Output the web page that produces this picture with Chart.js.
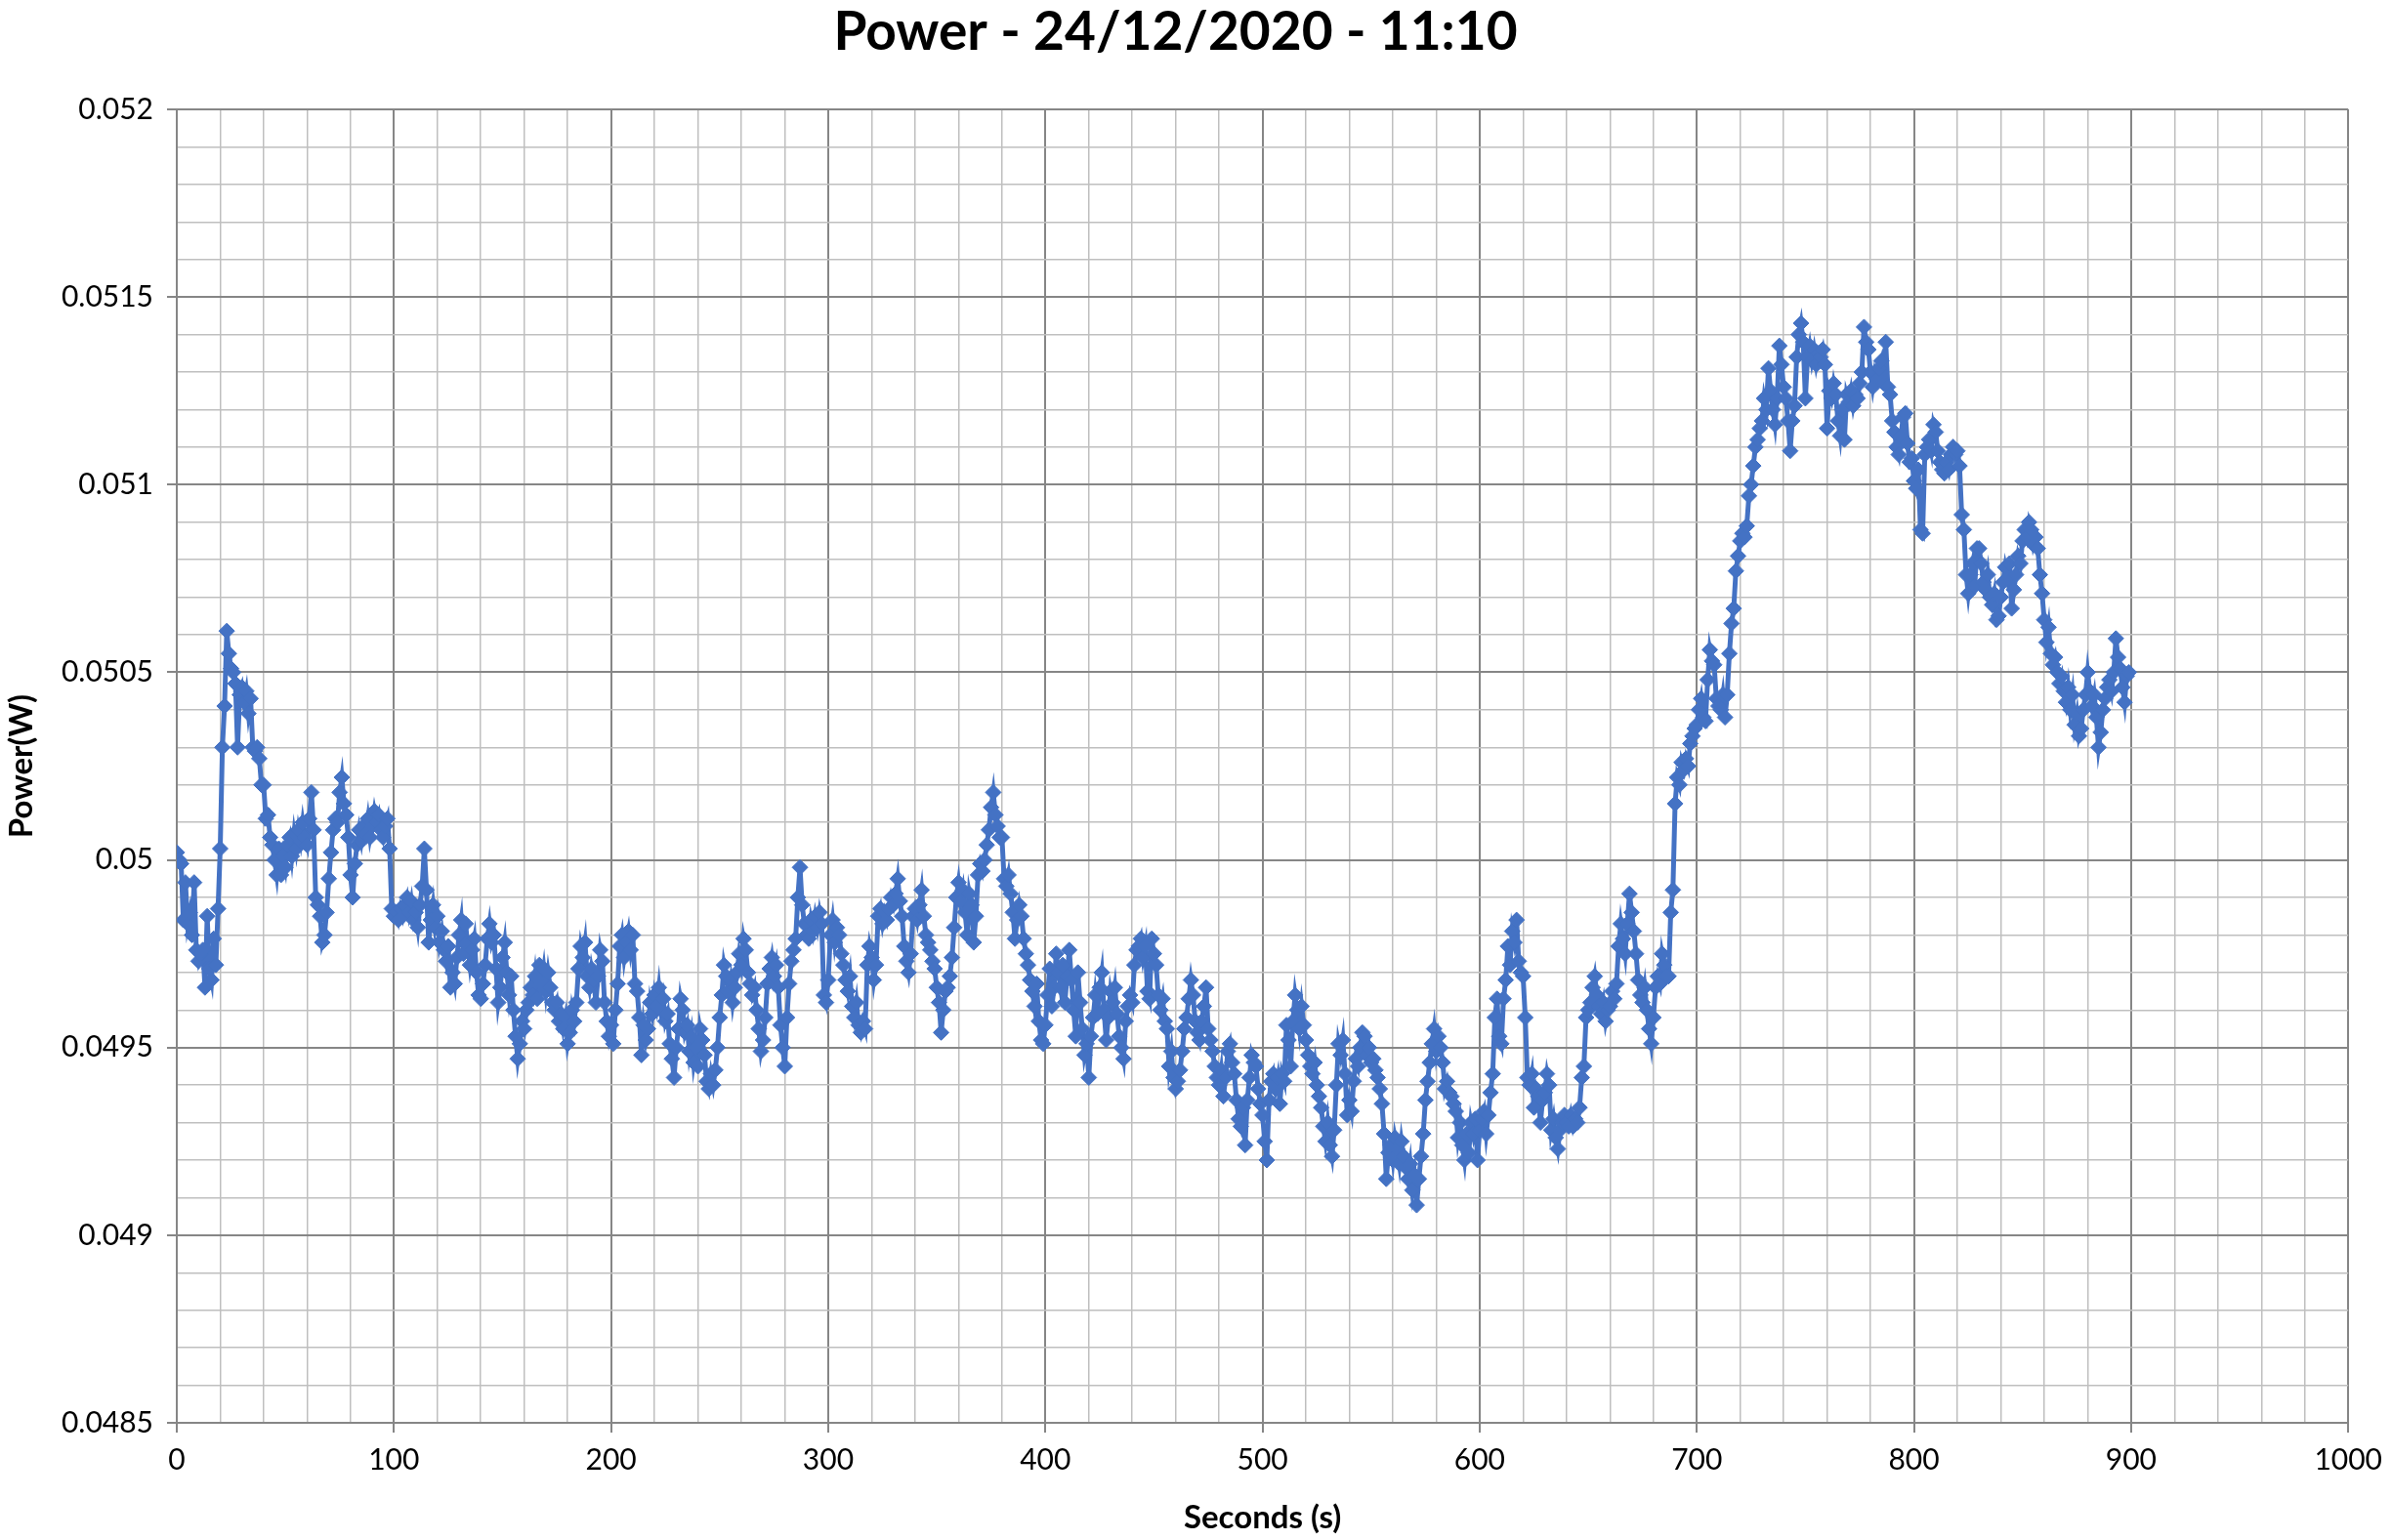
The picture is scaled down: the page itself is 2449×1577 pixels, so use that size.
<!DOCTYPE html>
<html>
<head>
<meta charset="utf-8">
<script src="https://cdn.jsdelivr.net/npm/chart.js@4.4.1/dist/chart.umd.min.js"></script>
<style>
  html, body { margin: 0; padding: 0; background: #ffffff; }
  #wrap { width: 2449px; height: 1577px; }
</style>
</head>
<body>
<div id="wrap"><canvas id="c" width="2449" height="1577"></canvas></div>
<script>
const chartTitle = 'Power - 24/12/2020 - 11:10';
const xAxisTitle = 'Seconds (s)';
const yAxisTitle = 'Power(W)';

// sample time of the first reading and spacing between readings (seconds)
const startSecond = 0;
const secondsPerSample = 1;

// power readings (W), one per sample
const powerW = [
  0.05002,0.05000,0.04999,0.04984,0.04994,0.04983,0.04986,0.04980,0.04994,0.04976,
  0.04973,0.04975,0.04976,0.04966,0.04985,0.04971,0.04968,0.04979,0.04972,0.04987,
  0.05003,0.05030,0.05041,0.05061,0.05055,0.05051,0.05050,0.05047,0.05030,0.05044,
  0.05046,0.05042,0.05045,0.05039,0.05043,0.05030,0.05029,0.05030,0.05027,0.05020,
  0.05020,0.05011,0.05012,0.05006,0.05004,0.05000,0.04996,0.05003,0.04996,0.05001,
  0.04998,0.05004,0.05006,0.05001,0.05007,0.05003,0.05008,0.05005,0.05010,0.05006,
  0.05004,0.05011,0.05018,0.05008,0.04990,0.04988,0.04985,0.04978,0.04980,0.04986,
  0.04995,0.05002,0.05008,0.05011,0.05010,0.05018,0.05022,0.05015,0.05012,0.05006,
  0.04996,0.04990,0.04999,0.05004,0.05008,0.05005,0.05009,0.05007,0.05011,0.05006,
  0.05009,0.05013,0.05010,0.05012,0.05008,0.05006,0.05009,0.05011,0.05003,0.04987,
  0.04985,0.04986,0.04984,0.04987,0.04985,0.04988,0.04990,0.04986,0.04989,0.04984,
  0.04986,0.04982,0.04988,0.04993,0.05003,0.04992,0.04978,0.04984,0.04988,0.04982,
  0.04985,0.04978,0.04981,0.04976,0.04973,0.04977,0.04966,0.04970,0.04967,0.04974,
  0.04980,0.04984,0.04975,0.04983,0.04977,0.04972,0.04976,0.04979,0.04970,0.04964,
  0.04963,0.04967,0.04972,0.04979,0.04983,0.04978,0.04980,0.04971,0.04962,0.04966,
  0.04974,0.04978,0.04970,0.04964,0.04969,0.04960,0.04953,0.04947,0.04951,0.04957,
  0.04955,0.04960,0.04962,0.04966,0.04964,0.04969,0.04963,0.04972,0.04967,0.04971,
  0.04965,0.04970,0.04966,0.04962,0.04960,0.04962,0.04957,0.04959,0.04955,0.04958,
  0.04951,0.04954,0.04960,0.04957,0.04962,0.04971,0.04977,0.04974,0.04978,0.04969,
  0.04966,0.04971,0.04968,0.04962,0.04969,0.04976,0.04973,0.04962,0.04957,0.04953,
  0.04956,0.04951,0.04960,0.04967,0.04977,0.04980,0.04974,0.04978,0.04981,0.04976,
  0.04980,0.04967,0.04965,0.04958,0.04948,0.04956,0.04952,0.04955,0.04962,0.04959,
  0.04964,0.04961,0.04966,0.04960,0.04963,0.04957,0.04959,0.04951,0.04947,0.04942,
  0.04950,0.04955,0.04963,0.04960,0.04954,0.04956,0.04949,0.04953,0.04946,0.04950,
  0.04945,0.04955,0.04952,0.04948,0.04941,0.04939,0.04943,0.04940,0.04944,0.04950,
  0.04958,0.04964,0.04972,0.04969,0.04965,0.04968,0.04962,0.04966,0.04970,0.04975,
  0.04972,0.04979,0.04976,0.04970,0.04967,0.04964,0.04966,0.04960,0.04955,0.04949,
  0.04952,0.04958,0.04967,0.04971,0.04974,0.04969,0.04972,0.04966,0.04956,0.04950,
  0.04945,0.04958,0.04967,0.04973,0.04976,0.04979,0.04990,0.04998,0.04988,0.04983,
  0.04980,0.04979,0.04984,0.04981,0.04985,0.04982,0.04986,0.04983,0.04964,0.04962,
  0.04968,0.04980,0.04984,0.04978,0.04982,0.04980,0.04975,0.04972,0.04968,0.04965,
  0.04969,0.04961,0.04958,0.04962,0.04956,0.04954,0.04957,0.04955,0.04972,0.04977,
  0.04974,0.04968,0.04972,0.04985,0.04987,0.04983,0.04986,0.04984,0.04987,0.04990,
  0.04988,0.04991,0.04995,0.04989,0.04985,0.04977,0.04973,0.04970,0.04975,0.04985,
  0.04987,0.04984,0.04988,0.04992,0.04985,0.04980,0.04978,0.04976,0.04973,0.04971,
  0.04966,0.04962,0.04954,0.04960,0.04965,0.04966,0.04969,0.04974,0.04982,0.04990,
  0.04994,0.04989,0.04992,0.04986,0.04980,0.04991,0.04988,0.04978,0.04985,0.04996,
  0.04999,0.04997,0.05000,0.05004,0.05008,0.05014,0.05018,0.05012,0.05009,0.05006,
  0.05006,0.04995,0.04993,0.04996,0.04991,0.04986,0.04979,0.04984,0.04988,0.04985,
  0.04979,0.04975,0.04972,0.04968,0.04965,0.04961,0.04967,0.04957,0.04952,0.04951,
  0.04956,0.04964,0.04971,0.04961,0.04966,0.04975,0.04970,0.04966,0.04972,0.04962,
  0.04969,0.04976,0.04968,0.04960,0.04953,0.04970,0.04962,0.04955,0.04948,0.04951,
  0.04942,0.04953,0.04958,0.04964,0.04959,0.04966,0.04970,0.04960,0.04952,0.04958,
  0.04965,0.04962,0.04966,0.04959,0.04953,0.04950,0.04947,0.04957,0.04961,0.04964,
  0.04962,0.04972,0.04976,0.04977,0.04979,0.04974,0.04977,0.04965,0.04963,0.04979,
  0.04975,0.04972,0.04964,0.04960,0.04963,0.04957,0.04955,0.04945,0.04949,0.04942,
  0.04939,0.04941,0.04944,0.04949,0.04955,0.04958,0.04963,0.04968,0.04964,0.04957,
  0.04954,0.04952,0.04957,0.04961,0.04966,0.04955,0.04952,0.04949,0.04945,0.04942,
  0.04940,0.04944,0.04937,0.04942,0.04949,0.04951,0.04946,0.04943,0.04936,0.04931,
  0.04929,0.04934,0.04924,0.04936,0.04942,0.04948,0.04946,0.04945,0.04939,0.04935,
  0.04932,0.04925,0.04920,0.04936,0.04941,0.04943,0.04939,0.04942,0.04935,0.04943,
  0.04941,0.04956,0.04952,0.04945,0.04957,0.04964,0.04960,0.04955,0.04961,0.04956,
  0.04952,0.04948,0.04945,0.04943,0.04946,0.04940,0.04937,0.04934,0.04929,0.04925,
  0.04930,0.04924,0.04921,0.04928,0.04940,0.04951,0.04948,0.04952,0.04943,0.04932,
  0.04936,0.04933,0.04941,0.04947,0.04945,0.04950,0.04954,0.04953,0.04948,0.04950,
  0.04946,0.04947,0.04944,0.04942,0.04939,0.04935,0.04927,0.04915,0.04922,0.04924,
  0.04920,0.04926,0.04923,0.04919,0.04925,0.04921,0.04918,0.04915,0.04919,0.04912,
  0.04916,0.04908,0.04915,0.04921,0.04927,0.04936,0.04941,0.04946,0.04951,0.04955,
  0.04949,0.04953,0.04950,0.04946,0.04939,0.04941,0.04938,0.04937,0.04935,0.04933,
  0.04926,0.04930,0.04924,0.04920,0.04927,0.04922,0.04930,0.04927,0.04931,0.04920,
  0.04928,0.04931,0.04933,0.04927,0.04932,0.04938,0.04943,0.04958,0.04963,0.04953,
  0.04951,0.04963,0.04968,0.04977,0.04972,0.04981,0.04978,0.04984,0.04973,0.04970,
  0.04969,0.04958,0.04942,0.04940,0.04943,0.04934,0.04939,0.04937,0.04930,0.04936,
  0.04938,0.04943,0.04940,0.04928,0.04931,0.04926,0.04923,0.04928,0.04930,0.04932,
  0.04930,0.04929,0.04932,0.04929,0.04931,0.04930,0.04934,0.04942,0.04945,0.04958,
  0.04960,0.04962,0.04966,0.04969,0.04964,0.04961,0.04959,0.04962,0.04957,0.04960,
  0.04961,0.04965,0.04963,0.04967,0.04977,0.04983,0.04979,0.04975,0.04983,0.04991,
  0.04986,0.04981,0.04975,0.04968,0.04964,0.04962,0.04966,0.04960,0.04955,0.04951,
  0.04958,0.04966,0.04969,0.04967,0.04975,0.04972,0.04969,0.04969,0.04986,0.04992,
  0.05015,0.05022,0.05020,0.05026,0.05024,0.05027,0.05025,0.05031,0.05033,0.05035,
  0.05036,0.05040,0.05043,0.05038,0.05037,0.05048,0.05056,0.05053,0.05052,0.05043,
  0.05041,0.05040,0.05044,0.05038,0.05044,0.05055,0.05063,0.05067,0.05077,0.05081,
  0.05085,0.05087,0.05086,0.05089,0.05097,0.05100,0.05105,0.05110,0.05112,0.05115,
  0.05117,0.05123,0.05120,0.05131,0.05125,0.05120,0.05116,0.05123,0.05137,0.05132,
  0.05126,0.05123,0.05117,0.05109,0.05117,0.05121,0.05134,0.05140,0.05143,0.05138,
  0.05123,0.05134,0.05137,0.05133,0.05136,0.05132,0.05135,0.05134,0.05136,0.05132,
  0.05115,0.05125,0.05123,0.05127,0.05124,0.05117,0.05113,0.05120,0.05112,0.05124,
  0.05122,0.05125,0.05121,0.05124,0.05123,0.05127,0.05130,0.05142,0.05138,0.05136,
  0.05130,0.05126,0.05130,0.05128,0.05131,0.05133,0.05127,0.05138,0.05126,0.05124,
  0.05117,0.05114,0.05110,0.05108,0.05113,0.05118,0.05119,0.05111,0.05106,0.05107,
  0.05101,0.05099,0.05104,0.05088,0.05087,0.05108,0.05110,0.05112,0.05109,0.05116,
  0.05114,0.05109,0.05106,0.05104,0.05103,0.05106,0.05104,0.05108,0.05110,0.05108,
  0.05109,0.05105,0.05092,0.05088,0.05076,0.05071,0.05076,0.05079,0.05073,0.05083,
  0.05083,0.05079,0.05074,0.05072,0.05076,0.05070,0.05068,0.05071,0.05064,0.05065,
  0.05070,0.05074,0.05078,0.05075,0.05079,0.05067,0.05072,0.05076,0.05081,0.05079,
  0.05085,0.05088,0.05086,0.05090,0.05088,0.05084,0.05086,0.05083,0.05076,0.05071,
  0.05064,0.05058,0.05062,0.05055,0.05052,0.05054,0.05050,0.05047,0.05049,0.05045,
  0.05042,0.05046,0.05040,0.05044,0.05036,0.05039,0.05033,0.05035,0.05040,0.05044,
  0.05050,0.05045,0.05041,0.05044,0.05038,0.05030,0.05034,0.05040,0.05043,0.05046,
  0.05048,0.05045,0.05050,0.05059,0.05054,0.05051,0.05046,0.05042,0.05049,0.05050
];

// labelled (major) ticks
const xTickLabels = ['0','100','200','300','400','500','600','700','800','900','1000'];
const yTickLabels = ['0.0485','0.049','0.0495','0.05','0.0505','0.051','0.0515','0.052'];

const seriesColor = '#4472C4';
const majorGrid = '#868686';
const minorGrid = '#bfbfbf';
const fontFamily = 'Lato, "Open Sans", "DejaVu Sans", sans-serif';

const points = powerW.map((v, i) => ({ x: startSecond + i * secondsPerSample, y: v }));

const xMin = Number(xTickLabels[0]);
const xMax = Number(xTickLabels[xTickLabels.length - 1]);
const yMin = Number(yTickLabels[0]);
const yMax = Number(yTickLabels[yTickLabels.length - 1]);

function xLabelFor(v) {
  const hit = xTickLabels.find(l => Math.abs(Number(l) - v) < 1e-6);
  return hit === undefined ? null : hit;
}
function yLabelFor(v) {
  const hit = yTickLabels.find(l => Math.abs(Number(l) - v) < 1e-9);
  return hit === undefined ? null : hit;
}

new Chart(document.getElementById('c'), {
  type: 'line',
  data: {
    datasets: [{
      data: points,
      borderColor: seriesColor,
      backgroundColor: seriesColor,
      borderWidth: 5,
      pointStyle: 'rectRot',
      pointRadius: 8,
      pointBorderWidth: 1,
      pointBackgroundColor: seriesColor,
      pointBorderColor: seriesColor,
      tension: 0,
      fill: false
    }]
  },
  options: {
    responsive: false,
    animation: false,
    devicePixelRatio: 1,
    layout: { padding: { left: 0, right: 42, top: 0, bottom: 0 } },
    plugins: {
      legend: { display: false },
      tooltip: { enabled: false },
      title: {
        display: true,
        text: chartTitle,
        color: '#000000',
        font: { family: fontFamily, size: 55, weight: 'bold', lineHeight: 1.2 },
        padding: { top: 0, bottom: 46 }
      }
    },
    scales: {
      x: {
        type: 'linear',
        min: xMin,
        max: xMax,
        afterFit(scale) { scale.height = 120; },
        border: { color: majorGrid, width: 2 },
        grid: {
          color: c => (c.tick && xLabelFor(c.tick.value) !== null) ? majorGrid : minorGrid,
          lineWidth: c => (c.tick && xLabelFor(c.tick.value) !== null) ? 2 : 1.5,
          tickColor: c => (c.tick && xLabelFor(c.tick.value) !== null) ? majorGrid : 'rgba(0,0,0,0)',
          tickLength: 10,
          drawTicks: true
        },
        ticks: {
          stepSize: 20,
          autoSkip: false,
          maxRotation: 0,
          color: '#000000',
          padding: 10,
          font: { family: fontFamily, size: 30 },
          callback: v => { const l = xLabelFor(v); return l === null ? '' : l; }
        },
        title: {
          display: true,
          text: xAxisTitle,
          color: '#000000',
          font: { family: fontFamily, size: 33, weight: 'bold', lineHeight: 1.2 },
          padding: { top: 0, bottom: 3 }
        }
      },
      y: {
        type: 'linear',
        min: yMin,
        max: yMax,
        afterFit(scale) { scale.width = 181; },
        border: { color: majorGrid, width: 2 },
        grid: {
          color: c => (c.tick && yLabelFor(c.tick.value) !== null) ? majorGrid : minorGrid,
          lineWidth: c => (c.tick && yLabelFor(c.tick.value) !== null) ? 2 : 1.5,
          tickColor: c => (c.tick && yLabelFor(c.tick.value) !== null) ? majorGrid : 'rgba(0,0,0,0)',
          tickLength: 10,
          drawTicks: true
        },
        ticks: {
          stepSize: 0.0001,
          autoSkip: false,
          color: '#000000',
          padding: 14,
          font: { family: fontFamily, size: 30 },
          callback: v => { const l = yLabelFor(v); return l === null ? '' : l; }
        },
        title: {
          display: true,
          text: yAxisTitle,
          color: '#000000',
          font: { family: fontFamily, size: 33, weight: 'bold', lineHeight: 1.2 },
          padding: { top: 3, bottom: 0 }
        }
      }
    }
  }
});
</script>
</body>
</html>
